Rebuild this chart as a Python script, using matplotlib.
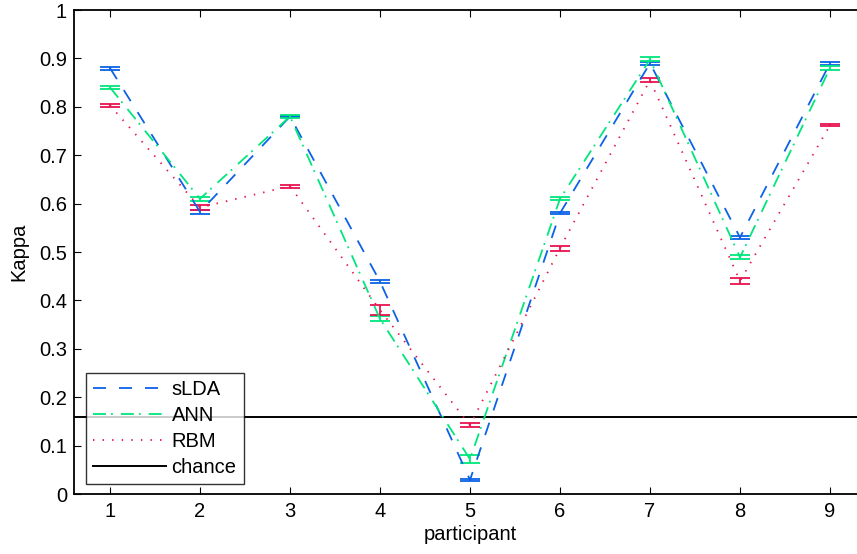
import matplotlib
matplotlib.use("Agg")
import matplotlib.pyplot as plt
import numpy as np
from matplotlib.lines import Line2D

plt.rcParams['font.family'] = ['Liberation Sans', 'DejaVu Sans']

participants = [1, 2, 3, 4, 5, 6, 7, 8, 9]
slda = [0.880, 0.583, 0.780, 0.439, 0.029, 0.580, 0.890, 0.530, 0.890]
slda_err = [0.003, 0.004, 0.002, 0.003, 0.002, 0.002, 0.003, 0.003, 0.003]
ann = [0.840, 0.610, 0.780, 0.362, 0.072, 0.610, 0.898, 0.489, 0.880]
ann_err = [0.004, 0.004, 0.003, 0.005, 0.008, 0.003, 0.004, 0.004, 0.004]
rbm = [0.803, 0.592, 0.636, 0.380, 0.142, 0.508, 0.855, 0.440, 0.762]
rbm_err = [0.003, 0.005, 0.003, 0.011, 0.004, 0.005, 0.004, 0.007, 0.002]
chance = 0.16

blue = '#0c62e6'
green = '#00e67c'
red = '#e8124f'

ls_blue = (0, (7.2, 7.2))
ls_green = (0, (7.2, 2.8, 1.0, 4.4))
ls_red = (0, (0.8, 4.5))
LW = 1.3

fs = 14.5

fig = plt.figure(figsize=(8.57, 5.54), dpi=100)
ax = fig.add_axes([74/857, 60/554, 792/857, 484/554])

ax.errorbar(participants, slda, yerr=slda_err, color=blue, ls=ls_blue, lw=LW,
            capsize=7, capthick=LW, elinewidth=LW, label='sLDA')
ax.errorbar(participants, ann, yerr=ann_err, color=green, ls=ls_green, lw=LW,
            capsize=7, capthick=LW, elinewidth=LW, label='ANN')
ax.errorbar(participants, rbm, yerr=rbm_err, color=red, ls=ls_red, lw=LW,
            capsize=7, capthick=LW, elinewidth=LW, label='RBM')
ax.axhline(chance, color='black', lw=1.4, label='chance')

ax.set_xlim(0.6, 9.4)
ax.set_ylim(0, 1)
ax.set_xticks(participants)
ax.set_yticks(np.round(np.arange(0, 1.01, 0.1), 1))
ax.set_yticklabels(['0'] + [f'{v:.1f}' for v in np.arange(0.1, 0.95, 0.1)] + ['1'])
ax.tick_params(direction='in', length=5, width=0.8, top=True, right=False, labelsize=fs)
ax.tick_params(axis='x', pad=6)
ax.tick_params(axis='y', pad=5)
for s in ax.spines.values():
    s.set_linewidth(1.3)
ax.spines['right'].set_visible(False)
ax.set_xlabel('participant', fontsize=fs, labelpad=3)
ax.set_ylabel('Kappa', fontsize=fs, labelpad=8)

hl = [Line2D([], [], color=blue, ls=ls_blue, lw=LW),
      Line2D([], [], color=green, ls=ls_green, lw=LW),
      Line2D([], [], color=red, ls=ls_red, lw=LW),
      Line2D([], [], color='black', lw=1.4)]
leg = ax.legend(hl, ['sLDA', 'ANN', 'RBM', 'chance'], loc='lower left',
                bbox_to_anchor=(12/792, 10/484), fontsize=fs, frameon=True,
                fancybox=False, edgecolor='black', handlelength=3.6,
                handletextpad=0.3, labelspacing=0.35, borderpad=0.35, borderaxespad=0)
leg.get_frame().set_linewidth(1.0)

fig.savefig('out.png', dpi=100)
